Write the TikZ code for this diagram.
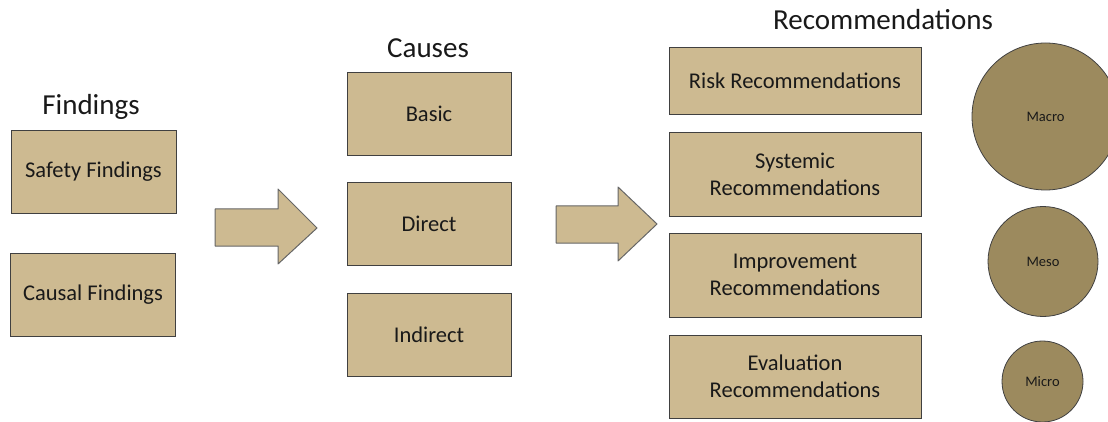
\documentclass[tikz,border=0pt]{standalone}
\usepackage{fontspec}
\setmainfont{Carlito}

\definecolor{boxfill}{RGB}{205,186,145}
\definecolor{ballfill}{RGB}{156,138,94}
\definecolor{edgegray}{RGB}{64,64,64}

\begin{document}
\begin{tikzpicture}[x=1pt,y=-1pt]
\tikzstyle{every node}=[inner sep=0pt, text=black!90];
\tikzstyle{box}=[draw=edgegray, fill=boxfill, line width=0.8pt, align=center,
  font=\fontsize{22.5}{27}\selectfont];
\tikzstyle{title}=[anchor=base, font=\fontsize{29}{35}\selectfont];
\tikzstyle{ball}=[draw=edgegray, fill=ballfill, line width=0.8pt, circle,
  font=\fontsize{14.5}{17}\selectfont];
\tikzstyle{bigarrow}=[draw=black!60, fill=boxfill, line width=1pt, line join=round];
\clip (0,0) rectangle (1108,422);

% findings
\node [title] (tf) at (91, 115) {Findings};
\node [box, minimum width=165pt, minimum height=83pt] (f1) at (93.5, 171.5) {Safety Findings};
\node [box, minimum width=165pt, minimum height=83pt] (f2) at (93, 294.5) {Causal Findings};

% causes
\node [title] (tc) at (428, 58) {Causes};
\node [box, minimum width=164pt, minimum height=83pt] (c1) at (429, 113.5) {Basic};
\node [box, minimum width=164pt, minimum height=83pt] (c2) at (429, 223.5) {Direct};
\node [box, minimum width=164pt, minimum height=83pt] (c3) at (429, 334.5) {Indirect};

% recommendations
\node [title] (tr) at (883, 30) {Recommendations};
\node [box, minimum width=252pt, minimum height=67pt] (r1) at (795, 80.5) {Risk Recommendations};
\node [box, minimum width=252pt, minimum height=84pt] (r2) at (795, 174) {Systemic\\Recommendations};
\node [box, minimum width=252pt, minimum height=84pt] (r3) at (795, 275) {Improvement\\Recommendations};
\node [box, minimum width=252pt, minimum height=83pt] (r4) at (795, 376.5) {Evaluation\\Recommendations};

% levels
\node [ball, minimum size=147pt] (m1) at (1045.5, 116.5) {Macro};
\node [ball, minimum size=110pt] (m2) at (1043, 261.5) {Meso};
\node [ball, minimum size=81pt] (m3) at (1042.5, 381.5) {Micro};

% block arrows
\draw [bigarrow] (215,209) -- (278,209) -- (278,189) -- (317,228)
  -- (278,264) -- (278,246) -- (215,246) -- cycle;
\draw [bigarrow] (556,206) -- (618,206) -- (618,187) -- (657,224)
  -- (618,261) -- (618,243) -- (556,243) -- cycle;
\end{tikzpicture}
\end{document}
